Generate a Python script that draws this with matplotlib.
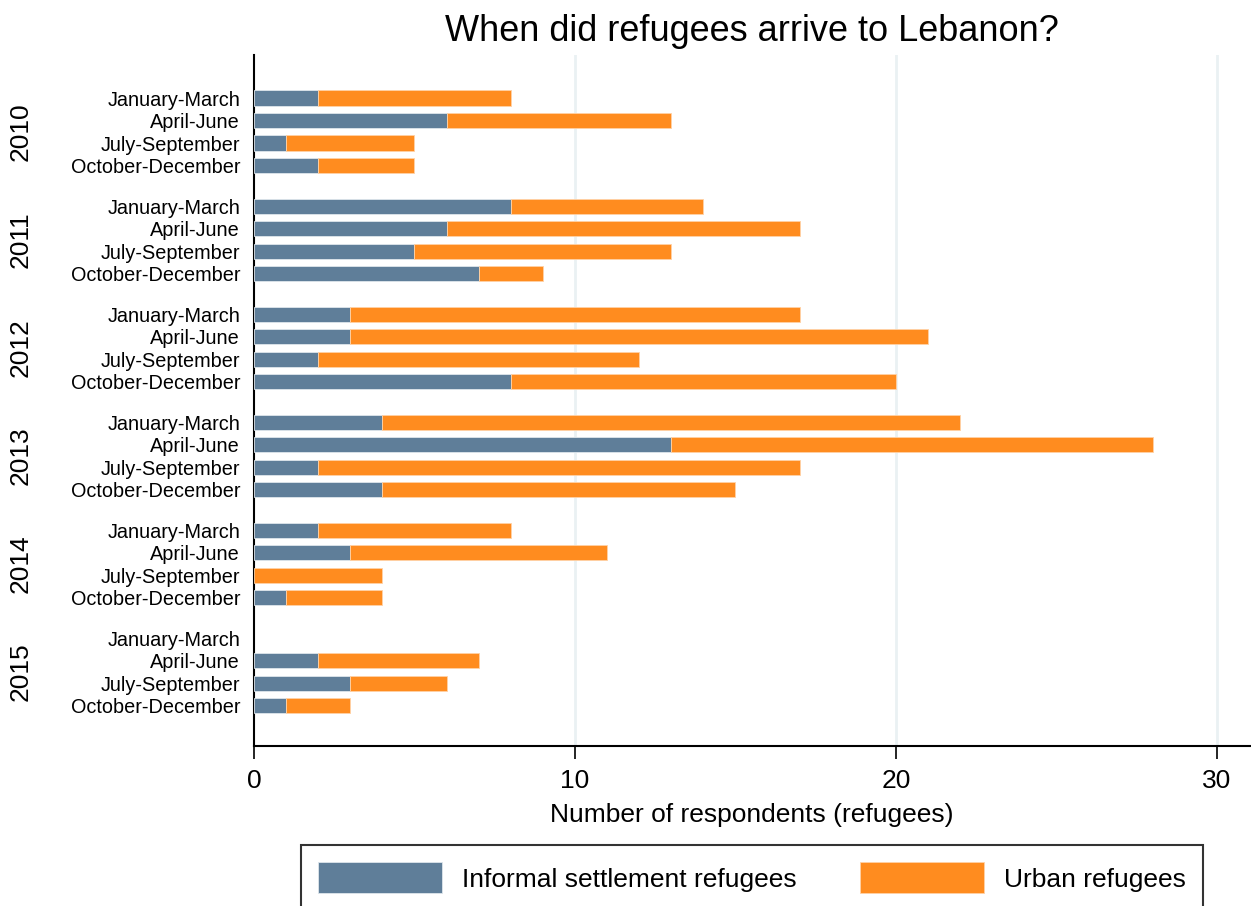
import matplotlib
matplotlib.use("Agg")
import matplotlib.pyplot as plt
import matplotlib.transforms as mtransforms
import numpy as np

plt.rcParams['font.family'] = ['Liberation Sans', 'DejaVu Sans']

years = ['2010', '2011', '2012', '2013', '2014', '2015']
quarters = ['January-March', 'April-June', 'July-September', 'October-December']

# informal settlement refugees, per year then quarter
informal = [2, 6, 1, 2,
            8, 6, 5, 7,
            3, 3, 2, 8,
            4, 13, 2, 4,
            2, 3, 0, 1,
            0, 2, 3, 1]
# urban refugees
urban = [6, 7, 4, 3,
         6, 11, 8, 2,
         14, 18, 10, 12,
         18, 15, 15, 11,
         6, 8, 4, 3,
         0, 5, 3, 2]

color_inf = '#5f7e99'
color_urb = '#ff8c1f'

group_step = 4.8
pos = []
labels = []
for g in range(len(years)):
    for i, q in enumerate(quarters):
        pos.append(g * group_step + i)
        labels.append(q)
pos = np.array(pos)

fig = plt.figure(figsize=(12.51, 9.06), dpi=100)
ax = fig.add_axes([254 / 1251, 1 - 746 / 906, (1250 - 254) / 1251, (746 - 55) / 906])

# no outline on empty bars
lw_inf = [0.6 if v > 0 else 0 for v in informal]
lw_urb = [0.6 if v > 0 else 0 for v in urban]

ax.barh(pos, informal, height=0.67, color=color_inf, edgecolor='#dfe6ec', linewidth=lw_inf,
        label='Informal settlement refugees', zorder=3)
ax.barh(pos, urban, left=informal, height=0.67, color=color_urb, edgecolor='#ffd2a6', linewidth=lw_urb,
        label='Urban refugees', zorder=3)

ax.set_xlim(0, 31.03)
ax.set_ylim(pos[-1] + 1.78, -1.91)

# vertical grid
for gx in [10, 20, 30]:
    ax.axvline(gx, color='#eaf1f3', linewidth=2, zorder=1)

ax.set_yticks(pos)
ax.set_yticklabels(labels, fontsize=14.3)
ax.tick_params(axis='y', length=0, pad=10)

ax.set_xticks([0, 10, 20, 30])
ax.tick_params(axis='x', length=9.5, width=1.2, labelsize=19, pad=7)
ax.set_xlabel('Number of respondents (refugees)', fontsize=19, labelpad=7)

for s in ['top', 'right']:
    ax.spines[s].set_visible(False)
for s in ['left', 'bottom']:
    ax.spines[s].set_linewidth(1.5)
    ax.spines[s].set_color('black')

# year labels
trans = mtransforms.blended_transform_factory(fig.transFigure, ax.transData)
for g, yr in enumerate(years):
    yc = g * group_step + 1.5
    ax.text(21 / 1251, yc, yr, transform=trans, rotation=90, fontsize=19,
            ha='center', va='center')

ax.set_title('When did refugees arrive to Lebanon?', fontsize=26, pad=10)

leg = fig.legend(loc='upper center', bbox_to_anchor=(752 / 1251, 1 - 845 / 906),
                 ncol=2, fontsize=19, frameon=True, fancybox=False,
                 handlelength=4.7, handleheight=1.45, handletextpad=0.75,
                 columnspacing=2.4, borderpad=0.65, borderaxespad=0)
leg.get_frame().set_edgecolor('black')
leg.get_frame().set_linewidth(1.5)

fig.savefig('out.png', dpi=100, facecolor='white')
